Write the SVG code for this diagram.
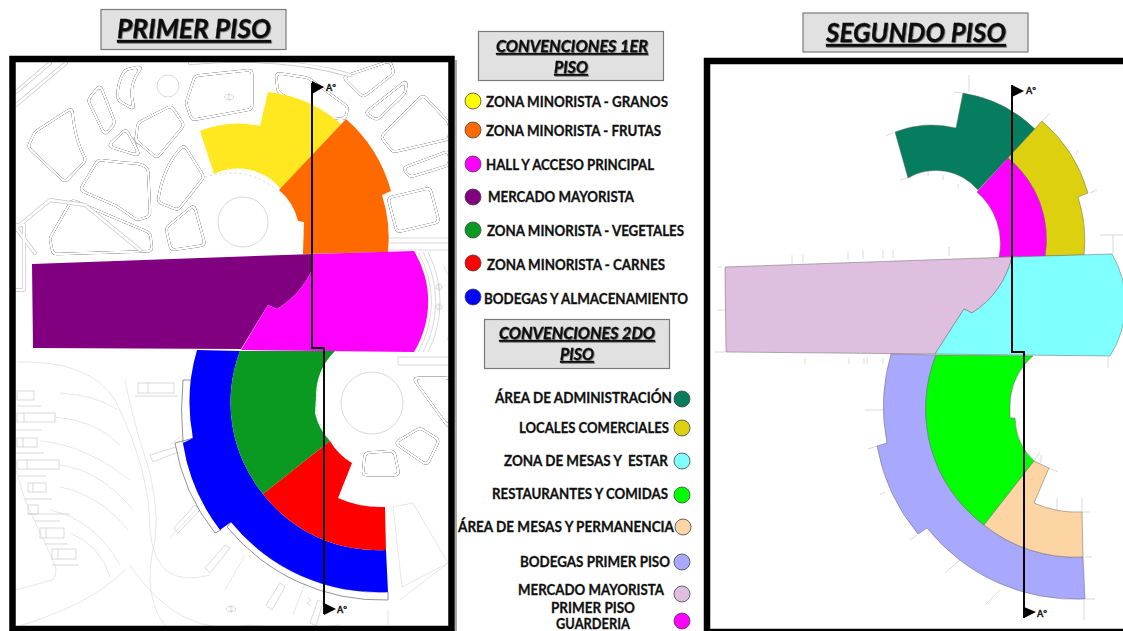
<svg xmlns="http://www.w3.org/2000/svg" width="1123" height="631" viewBox="0 0 1123 631">
<style>
text{font-family:"Lato","Open Sans","Liberation Sans",sans-serif;font-weight:700;fill:#111;stroke:#111;stroke-width:.3}
.l{font-size:14.500px}
.h{font-size:17px;font-style:italic;text-decoration:underline}
.t{font-size:27px;font-style:italic;text-decoration:underline}
.a{font-size:9px}
.box{fill:#e1e1e1;stroke:#7a7a7a;stroke-width:1.2}
.frame{fill:none;stroke:#000;stroke-width:6.5}
.z{stroke:none}
.z2{stroke:#666;stroke-width:.5}
.dot{stroke:#444;stroke-width:.8}
.sec{fill:none;stroke:#000;stroke-width:1.9}
.thin{fill:none;stroke:#cfcfcf;stroke-width:.8}
.thinner{fill:none;stroke:#e0e0e0;stroke-width:.8}
.wall{fill:#fff;stroke:#777;stroke-width:.8}
</style>
<defs>
<filter id="sh" x="-5%" y="-20%" width="110%" height="140%"><feDropShadow dx="0.8" dy="1" stdDeviation="0.7" flood-color="#000" flood-opacity=".45"/></filter>
<filter id="rnd" filterUnits="userSpaceOnUse" x="0" y="0" width="460" height="631" color-interpolation-filters="sRGB">
<feGaussianBlur in="SourceAlpha" stdDeviation="2.2"/>
<feComponentTransfer result="b"><feFuncA type="table" tableValues="0 0 0 0 0 .8 .8 0 0 0 0 0 0 .8 .8 0 0 0 0 0 0"/></feComponentTransfer>
<feFlood flood-color="#a8a8a8"/>
<feComposite operator="in" in2="b"/>
</filter>
<g id="streets" fill="none" stroke-linejoin="round" stroke-linecap="round">
<path d="M16,105L66,63M16,92L50,63"/>
<path d="M16,228L50,200L85,205L140,250M16,228L35,253"/>
<path d="M16,225H24V290H16"/>
<path d="M190,63Q280,55 350,75"/>
</g>
</defs>
<rect width="1123" height="631" fill="#fff"/>

<g id="plano-fondo">
<g filter="url(#rnd)" fill="#000">
<path d="M35,132L72,108Q74,140 86,160L65,182L28,147Z"/>
<path d="M80,190L98,160L125,163Q146,163 148,170L150,216L137,220L117,206Z"/>
<path d="M88,100L100,85L115,123L105,135Z"/>
<path d="M125,70Q116,85 118,100L135,110Q125,85 143,66Z"/>
<path d="M195,76L252,70L252,109L192,120L186,103Z"/>
<path d="M138,123L171,106L184,125L157,158L136,140Z"/>
<path d="M108,146L126,129L140,156Z"/>
<path d="M158,202Q163,165 184,145L204,177L178,210Z"/>
<path d="M50,238L72,200L150,233L152,251L53,254Z"/>
<path d="M166,228L194,205L205,245L171,250Z"/>
<path d="M276,73L308,78L348,107L345,119L320,117L278,92Z"/>
<path d="M343,77L390,61L394,73L363,97Z"/>
<path d="M365,113L407,80L405,93L377,120Z"/>
<path d="M381,137L423,95L449,123L449,139L393,152Z"/>
<path d="M403,168L449,151L449,165L410,177Z"/>
<path d="M388,198L430,188L439,222L397,232Z"/>
<path d="M365,453L394,451L399,475L363,475Z"/>
<path d="M395,443L420,428L439,440L427,465Z"/>
<path d="M413,378H450V429Z"/>
</g>
<use href="#streets" stroke="#c6c6c6" stroke-width="4"/>
<use href="#streets" stroke="#fff" stroke-width="2.6"/>
<circle class="thin" cx="168" cy="86" r="11"/>
<circle class="thin" cx="243" cy="222" r="25"/>
<circle class="thin" cx="372" cy="403" r="31"/>
<path class="thin" d="M389,238H448M389,243H448M389,250H448M398,365H448M398,357H448M398,357V365"/>
<path class="thin" d="M418,252A100,100 0 0 1 418,352M423,252A105,105 0 0 1 423,352M428,252A110,110 0 0 1 428,352"/>
<path class="thinner" d="M443,265A80,80 0 0 1 447,340"/>
<path class="thin" d="M205,177Q262,160 299,215Q307,235 304,252" stroke-dasharray="2 3"/>
<path class="thin" d="M332,352Q312,385 318,420Q326,440 340,448" stroke-dasharray="2 3"/>
<g class="thinner">
<path d="M17,362Q90,360 115,400Q150,470 150,530Q155,590 210,575"/>
<path d="M60,393Q95,395 118,410M55,417Q95,420 120,445M40,441Q85,445 130,480M60,465Q100,470 133,510M60,487Q100,495 128,530M50,510Q95,520 120,565M70,533Q100,545 110,577"/>
<path d="M125,380Q133,420 143,450Q160,500 155,540Q140,600 170,631"/>
<path d="M16,627Q90,605 125,570M16,590L52,580Q58,575 55,565L25,500L16,470"/>
<path d="M170,445L200,420M170,538L200,505M225,590L245,555M293,615L310,570"/>
<path d="M130,565Q180,640 250,625Q300,631 340,625"/>
<path d="M393,507L413,503L448,563L402,587ZM400,600L448,563M388,610V625"/>
</g>
<g class="thin">
<rect x="17" y="391" width="17" height="9"/><path d="M17,406H41"/>
<rect x="17" y="413" width="38" height="9"/><path d="M24,413V422M16,430H42"/>
<rect x="17" y="438" width="20" height="9"/><path d="M23,438V447M16,453H44"/>
<rect x="17" y="460" width="42" height="9"/><path d="M27,460V469M18,476H46"/>
<rect x="28" y="483" width="18" height="9"/><path d="M33,483V492M25,499H52"/>
<rect x="28" y="505" width="10" height="9"/><path d="M28,514H70M35,521H60"/>
<rect x="40" y="528" width="24" height="10"/><path d="M46,528V538M45,544H68"/>
<rect x="52" y="549" width="24" height="10"/><path d="M58,549V559M52,565H79"/>
<rect x="138" y="383" width="36" height="10"/><path d="M148,383V393M135,396H178"/>
<path d="M150,455L176,447L178,452L153,462ZM174,528L195,505L200,510L178,533ZM205,568L225,545L230,548L210,573ZM266,605L280,583L285,587L272,610ZM310,623L318,600L323,602L316,626Z"/>
</g>
<g class="thin">
<ellipse cx="229" cy="97" rx="4.500" ry="2.500"/><path d="M229,93V101"/>
<ellipse cx="231" cy="609" rx="4.500" ry="2.500"/><path d="M231,605V613"/>
<ellipse cx="439" cy="287" rx="3" ry="2.500"/><path d="M439,283V291"/>
<ellipse cx="439" cy="307" rx="3" ry="2.500"/><path d="M439,303V311"/>
<path d="M308,597L311,600L307,603L311,606"/>
</g>
<g id="muros">
<path class="wall" d="M183,380H191L193,438L183,441Q180,410 183,380Z"/>
<path class="wall" d="M175,443L183,441A190,190 0 0 0 221,530L215,533A195,195 0 0 1 175,443Z"/>
<path class="wall" d="M227,527L231,522A190,190 0 0 0 388,592L388,600A200,200 0 0 1 227,527Z"/>
</g>
<g class="thin">
<path d="M722,267H718M725,352H715M725,310H717M792,264V255M803,263V254M848,260V252M863,259V250M883,258V250M893,258V250M949,256V247M958,358V364M805,358V364M867,358V364M849,358V364M864,358V364M883,358V364M1108,357V368M1113,235V254M1100,235H1123"/>
<path d="M969,92V75M954,92L963,93M893,132L886,136M1042,121L1050,113M1090,193L1097,190M1078,150L1076,155M908,178L900,180M928,176V170M943,180V175M958,188V184M877,446L868,449M884,410H865M880,495L885,492M917,535L910,540M960,560L945,573M1000,590L985,605M1085,599H1095M1085,557H1092M1082,512H1090M1082,512V498M1057,511V498M1049,468L1058,472M1041,463V455M1034,461L1040,452M1084,600V620"/>
</g>
</g>

<g id="zonas-primer-piso">
<g id="zona-granos"><path class="z" fill="#ffe81f" d="M268,92A133,133 0 0 1 341,124L281,189A55,55 0 0 0 214,174L200,131A100,100 0 0 1 260,126Z"/></g>
<g id="zona-frutas"><path class="z" fill="#ff6a00" d="M346,119A148,148 0 0 1 391,191L382,195A140,140 0 0 1 388,252L303,254L304,222L298,221A58,58 0 0 0 279,190Z"/></g>
<g id="zona-mayorista"><path class="z" fill="#800080" d="M32,264L313,254L312,270A90,90 0 0 1 277,309L268,305L241,349L33,348Z"/></g>
<g id="zona-hall"><path class="z" fill="#ff00ff" d="M313,254L414,251A97,97 0 0 1 414,352L241,350L268,305L277,309A90,90 0 0 0 312,270Z"/></g>
<g id="zona-bodegas"><path class="z" fill="#0000ff" d="M197,350L240,351A145,145 0 0 0 263,494A145,145 0 0 0 386,550L388,592A190,190 0 0 1 231,522L220,530A190,190 0 0 1 183,443L193,438A185,185 0 0 1 197,350Z"/></g>
<g id="zona-vegetales"><path class="z" fill="#0a9a22" d="M240,351L335,351A64,64 0 0 0 316,397L315,413A58,58 0 0 0 330,441L263,494A145,145 0 0 1 240,351Z"/></g>
<g id="zona-carnes"><path class="z" fill="#ff0000" d="M330,441L263,494A145,145 0 0 0 386,550L385,507A105,105 0 0 1 338,498L352,463A60,60 0 0 1 330,441Z"/></g>
</g>

<g id="zonas-segundo-piso">
<g id="zona-administracion"><path class="z2" fill="#067d5e" d="M963,93A133,133 0 0 1 1035,129L978,190A55,55 0 0 0 908,178L895,132A100,100 0 0 1 956,128Z"/></g>
<g id="zona-locales"><path class="z2" fill="#dcd00f" d="M1042,121A148,148 0 0 1 1088,193L1078,197A140,140 0 0 1 1084,255L1045,256A105,105 0 0 0 1008,158Z"/></g>
<g id="zona-guarderia"><path class="z2" fill="#ff00ff" d="M1008,158A105,105 0 0 1 1045,256L999,257A68,68 0 0 0 977,192Z"/></g>
<g id="zona-mercado-2"><path class="z2" fill="#dfbfdf" d="M725,267L1012,257A90,90 0 0 1 972,313L964,309L935,354L726,352Z"/></g>
<g id="zona-mesas-estar"><path class="z2" fill="#80ffff" d="M1012,257L1112,254A97,97 0 0 1 1110,356L935,354L964,309L972,313A90,90 0 0 0 1012,257Z"/></g>
<g id="zona-bodegas-2"><path class="z2" fill="#a8a8ff" d="M891,354L936,355A145,145 0 0 0 984,525A145,145 0 0 0 1083,557L1085,599A190,190 0 0 1 927,528L918,534A190,190 0 0 1 877,446L887,443A185,185 0 0 1 891,354Z"/></g>
<g id="zona-restaurantes"><path class="z2" fill="#00ff00" d="M936,355L1033,356A65,65 0 0 0 1010,407L1010,418L1015,418A60,60 0 0 0 1034,461L984,525A145,145 0 0 1 936,355Z"/></g>
<g id="zona-permanencia"><path class="z2" fill="#fdd4a4" d="M1034,461L1049,468L1034,503A105,105 0 0 0 1082,512L1083,557A145,145 0 0 1 984,525Z"/></g>
</g>

<g id="marcos">
<path d="M456,60V631" stroke="#a9a9a9" stroke-width="2" fill="none"/>
<rect class="frame" x="12.500" y="59" width="439" height="570"/>
<path class="frame" d="M1123,61H707V632H1123"/>
</g>

<g id="conectores">
<path class="sec" d="M312,83V348H324V614"/>
<path d="M312,81L324,87L312,94Z"/>
<path d="M324,603L336,609L324,615Z"/>
<path class="sec" d="M1012,85V352H1024V618"/>
<path d="M1012,85L1024,91L1012,97Z"/>
<path d="M1024,607L1036,612L1024,618Z"/>
</g>
<g id="etiquetas-corte">
<text class="a" x="326" y="91">A°</text>
<text class="a" x="337" y="613">A°</text>
<text class="a" x="1026" y="94">A°</text>
<text class="a" x="1037" y="617">A°</text>
</g>

<g id="titulo-primer-piso">
<rect class="box" x="101" y="9.500" width="185" height="40"/>
<text class="t" x="117" y="38" textLength="154" lengthAdjust="spacingAndGlyphs" filter="url(#sh)">PRIMER PISO</text>
</g>
<g id="titulo-segundo-piso">
<rect class="box" x="803" y="13" width="225" height="39"/>
<text class="t" x="826" y="42" textLength="180" lengthAdjust="spacingAndGlyphs" filter="url(#sh)">SEGUNDO PISO</text>
</g>

<g id="convenciones-1">
<rect class="box" x="478.500" y="31.500" width="185" height="49"/>
<text class="h" x="496" y="52" textLength="152" lengthAdjust="spacingAndGlyphs" filter="url(#sh)">CONVENCIONES 1ER</text>
<text class="h" x="554" y="73" textLength="34" lengthAdjust="spacingAndGlyphs" filter="url(#sh)">PISO</text>
<g id="l-granos"><circle class="dot" cx="473" cy="101" r="8" fill="#ffff00"/><text class="l" x="486" y="107" textLength="182" lengthAdjust="spacingAndGlyphs">ZONA MINORISTA - GRANOS</text></g>
<g id="l-frutas"><circle class="dot" cx="473" cy="130" r="8" fill="#ff6a00"/><text class="l" x="486" y="136" textLength="175" lengthAdjust="spacingAndGlyphs">ZONA MINORISTA - FRUTAS</text></g>
<g id="l-hall"><circle class="dot" cx="473" cy="164" r="8" fill="#ff00ff"/><text class="l" x="486" y="170" textLength="168" lengthAdjust="spacingAndGlyphs">HALL Y ACCESO PRINCIPAL</text></g>
<g id="l-mayorista"><circle class="dot" cx="473" cy="197" r="8" fill="#800080"/><text class="l" x="488" y="202" textLength="146" lengthAdjust="spacingAndGlyphs">MERCADO MAYORISTA</text></g>
<g id="l-vegetales"><circle class="dot" cx="473" cy="230" r="8" fill="#0a9a22"/><text class="l" x="487" y="236" textLength="197" lengthAdjust="spacingAndGlyphs">ZONA MINORISTA - VEGETALES</text></g>
<g id="l-carnes"><circle class="dot" cx="473" cy="263" r="8" fill="#ff0000"/><text class="l" x="487" y="270" textLength="178" lengthAdjust="spacingAndGlyphs">ZONA MINORISTA - CARNES</text></g>
<g id="l-bodegas"><circle class="dot" cx="473" cy="297" r="8" fill="#0000ff"/><text class="l" x="484" y="304" textLength="204" lengthAdjust="spacingAndGlyphs">BODEGAS Y ALMACENAMIENTO</text></g>
</g>

<g id="convenciones-2">
<rect class="box" x="484.500" y="319.500" width="185" height="49"/>
<text class="h" x="499" y="339" textLength="156" lengthAdjust="spacingAndGlyphs" filter="url(#sh)">CONVENCIONES 2DO</text>
<text class="h" x="560" y="360" textLength="34" lengthAdjust="spacingAndGlyphs" filter="url(#sh)">PISO</text>
<g id="l-admin"><circle class="dot" cx="682" cy="399" r="8" fill="#067d5e"/><text class="l" x="495" y="403" textLength="177" lengthAdjust="spacingAndGlyphs">ÁREA DE ADMINISTRACIÓN</text></g>
<g id="l-locales"><circle class="dot" cx="682" cy="428" r="8" fill="#dcd00f"/><text class="l" x="519" y="433" textLength="150" lengthAdjust="spacingAndGlyphs">LOCALES COMERCIALES</text></g>
<g id="l-mesas"><circle class="dot" cx="682" cy="461" r="8" fill="#80ffff"/><text class="l" x="504" y="466" textLength="164" lengthAdjust="spacingAndGlyphs" xml:space="preserve">ZONA DE MESAS Y  ESTAR</text></g>
<g id="l-rest"><circle class="dot" cx="682" cy="495" r="8" fill="#00ff00"/><text class="l" x="492" y="499" textLength="176" lengthAdjust="spacingAndGlyphs">RESTAURANTES Y COMIDAS</text></g>
<g id="l-perm"><circle class="dot" cx="683" cy="527" r="8" fill="#fdd4a4"/><text class="l" x="458" y="532" textLength="216" lengthAdjust="spacingAndGlyphs">ÁREA DE MESAS Y PERMANENCIA</text></g>
<g id="l-bod2"><circle class="dot" cx="682" cy="562" r="8" fill="#a8a8ff"/><text class="l" x="520" y="567" textLength="150" lengthAdjust="spacingAndGlyphs">BODEGAS PRIMER PISO</text></g>
<g id="l-merc2"><circle class="dot" cx="682" cy="594" r="8" fill="#dfbfdf"/><text class="l" x="518" y="595" textLength="146" lengthAdjust="spacingAndGlyphs">MERCADO MAYORISTA</text><text class="l" x="551" y="613" textLength="84" lengthAdjust="spacingAndGlyphs">PRIMER PISO</text></g>
<g id="l-guard"><circle class="dot" cx="682" cy="621" r="8" fill="#ff00ff"/><text class="l" x="556" y="629" textLength="74" lengthAdjust="spacingAndGlyphs">GUARDERIA</text></g>
</g>
</svg>
